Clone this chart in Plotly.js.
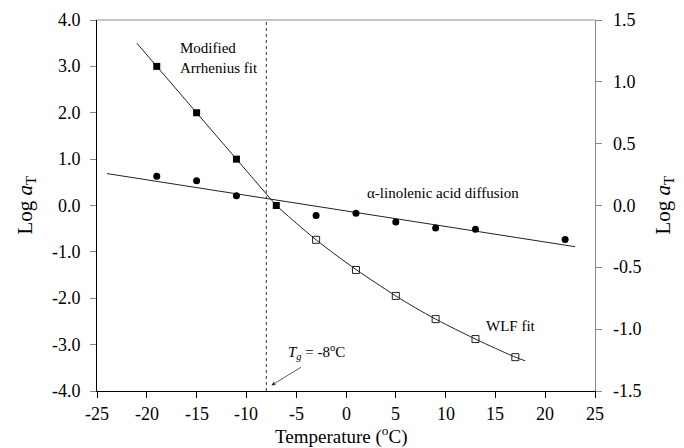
<!DOCTYPE html>
<html>
<head>
<meta charset="utf-8">
<script src="https://cdn.plot.ly/plotly-3.0.1.min.js"></script>
<style>html,body{margin:0;padding:0;background:#fff;}#chart{width:684px;height:448px;}</style>
</head>
<body>
<div id="chart"></div>
<script>
// Modified Arrhenius data (filled squares, left axis)
const arrheniusTemp = [-19, -15, -11, -7];
const arrheniusLog = [3.0, 2.0, 1.0, 0.0];
// WLF data (open squares, left axis)
const wlfTemp = [-3, 1, 5, 9, 13, 17];
const wlfLog = [-0.74, -1.39, -1.95, -2.45, -2.88, -3.27];
// Fit lines (left axis)
const arrheniusFitTemp = [-21, -7];
const arrheniusFitLog = [3.5, 0.0];
const wlfFitTemp = [-7, -5, -3, -1, 1, 3, 5, 7, 9, 11, 13, 15, 17, 18];
const wlfFitLog = [0.0, -0.38, -0.74, -1.07, -1.38, -1.67, -1.95, -2.21, -2.45, -2.67, -2.88, -3.08, -3.27, -3.35];
// alpha-linolenic acid diffusion (circles, right axis)
const diffTemp = [-19, -15, -11, -3, 1, 5, 9, 13, 22];
const diffLog = [0.236, 0.200, 0.079, -0.081, -0.063, -0.133, -0.181, -0.193, -0.274];
const diffFitTemp = [-24, 23];
const diffFitLog = [0.258, -0.333];
// Tg line
const tgTemp = [-8, -8];
const tgLog = [-4, 4];
// Ticks
const xTicks = [-25, -20, -15, -10, -5, 0, 5, 10, 15, 20, 25];
const xTickText = ['-25', '-20', '-15', '-10', '-5', '0', '5', '10', '15', '20', '25'];
const yTicks = [-4, -3, -2, -1, 0, 1, 2, 3, 4];
const yTickText = ['-4.0', '-3.0', '-2.0', '-1.0', '0.0', '1.0', '2.0', '3.0', '4.0'];
const y2Ticks = [-1.5, -1.0, -0.5, 0, 0.5, 1.0, 1.5];
const y2TickText = ['-1.5', '-1.0', '-0.5', '0.0', '0.5', '1.0', '1.5'];
// Titles
const xTitle = 'Temperature (<sup>o</sup>C)';
const yTitle = 'Log <i>a</i><sub>T</sub>';

const serif = 'Liberation Serif';
const tickFont = {family: serif, size: 18, color: '#000'};
const noteFont = {family: serif, size: 15, color: '#000'};

const traces = [
  {x: tgTemp, y: tgLog, mode: 'lines', line: {color: '#333', width: 1, dash: 'dot'}, hoverinfo: 'skip'},
  {x: arrheniusFitTemp, y: arrheniusFitLog, mode: 'lines', line: {color: '#222', width: 1}},
  {x: wlfFitTemp, y: wlfFitLog, mode: 'lines', line: {color: '#222', width: 1, shape: 'spline', smoothing: 0.8}},
  {x: diffFitTemp, y: diffFitLog, mode: 'lines', yaxis: 'y2', line: {color: '#222', width: 1}},
  {x: arrheniusTemp, y: arrheniusLog, mode: 'markers', marker: {symbol: 'square', size: 7, color: '#000'}},
  {x: wlfTemp, y: wlfLog, mode: 'markers', marker: {symbol: 'square-open', size: 7, color: '#222', line: {width: 1}}},
  {x: diffTemp, y: diffLog, mode: 'markers', yaxis: 'y2', marker: {symbol: 'circle', size: 7, color: '#000'}}
];

const annotations = [];
xTicks.forEach((v, i) => annotations.push({x: v, xref: 'x', y: 0, yref: 'paper', text: xTickText[i], showarrow: false, xanchor: 'center', yanchor: 'middle', yshift: -23, font: tickFont}));
yTicks.forEach((v, i) => annotations.push({x: 0, xref: 'paper', y: v, yref: 'y', text: yTickText[i], showarrow: false, xanchor: 'right', yanchor: 'middle', xshift: -14, font: tickFont}));
y2Ticks.forEach((v, i) => annotations.push({x: 1, xref: 'paper', y: v, yref: 'y2', text: y2TickText[i], showarrow: false, xanchor: 'left', yanchor: 'middle', xshift: 16, font: tickFont}));
annotations.push(
  {x: 0.49, xref: 'paper', y: 0, yref: 'paper', text: xTitle, showarrow: false, xanchor: 'center', yanchor: 'middle', yshift: -44, font: {family: serif, size: 19, color: '#000'}},
  {x: 0, xref: 'paper', y: 0.5, yref: 'paper', text: yTitle, showarrow: false, textangle: -90, xanchor: 'center', yanchor: 'middle', xshift: -72, font: {family: serif, size: 21, color: '#000'}},
  {x: 1, xref: 'paper', y: 0.5, yref: 'paper', text: yTitle, showarrow: false, textangle: -90, xanchor: 'center', yanchor: 'middle', xshift: 68, font: {family: serif, size: 21, color: '#000'}},
  {x: -16.9, y: 3.17, xref: 'x', yref: 'y', text: 'Modified<br>Arrhenius fit', showarrow: false, xanchor: 'left', yanchor: 'middle', align: 'left', font: noteFont},
  {x: 1.9, y: 0.27, xref: 'x', yref: 'y', text: '&#945;-linolenic acid diffusion', showarrow: false, xanchor: 'left', yanchor: 'middle', font: noteFont},
  {x: 16.6, y: -2.6, xref: 'x', yref: 'y', text: 'WLF fit', showarrow: false, xanchor: 'center', yanchor: 'middle', font: noteFont},
  {x: -3.0, y: -3.15, xref: 'x', yref: 'y', text: '<i>T</i><sub><i>g</i></sub> = -8<sup>o</sup>C', showarrow: false, xanchor: 'center', yanchor: 'middle', font: noteFont},
  {x: -7.5, y: -3.88, xref: 'x', yref: 'y', text: '', showarrow: true, ax: 31, ay: -19, arrowhead: 2, arrowsize: 1, arrowwidth: 0.8, arrowcolor: '#333'}
);

const layout = {
  width: 684, height: 448,
  margin: {l: 97, r: 89, t: 20, b: 57},
  showlegend: false,
  paper_bgcolor: '#fff', plot_bgcolor: '#fff',
  font: {family: serif, color: '#000', size: 17},
  xaxis: {
    range: [-25, 25], tickvals: xTicks, tickmode: 'array', showticklabels: false,
    ticks: 'outside', ticklen: 6, tickwidth: 1, tickcolor: '#000',
    showline: true, linecolor: '#000', linewidth: 1,
    showgrid: false, zeroline: false
  },
  yaxis: {
    range: [-4, 4], tickvals: yTicks, tickmode: 'array', showticklabels: false,
    ticks: 'outside', ticklen: 6, tickwidth: 1, tickcolor: '#888',
    showline: true, linecolor: '#000', linewidth: 1,
    showgrid: false, zeroline: false
  },
  yaxis2: {
    range: [-1.5, 1.5], tickvals: y2Ticks, tickmode: 'array', showticklabels: false,
    overlaying: 'y', side: 'right',
    ticks: 'outside', ticklen: 6, tickwidth: 1, tickcolor: '#888',
    showline: true, linecolor: '#888', linewidth: 1,
    showgrid: false, zeroline: false
  },
  shapes: [
    {type: 'line', xref: 'paper', yref: 'paper', x0: 0, x1: 1, y0: 1, y1: 1, line: {color: '#888', width: 1}}
  ],
  annotations: annotations
};

Plotly.newPlot('chart', traces, layout, {displayModeBar: false, staticPlot: true});
</script>
</body>
</html>
